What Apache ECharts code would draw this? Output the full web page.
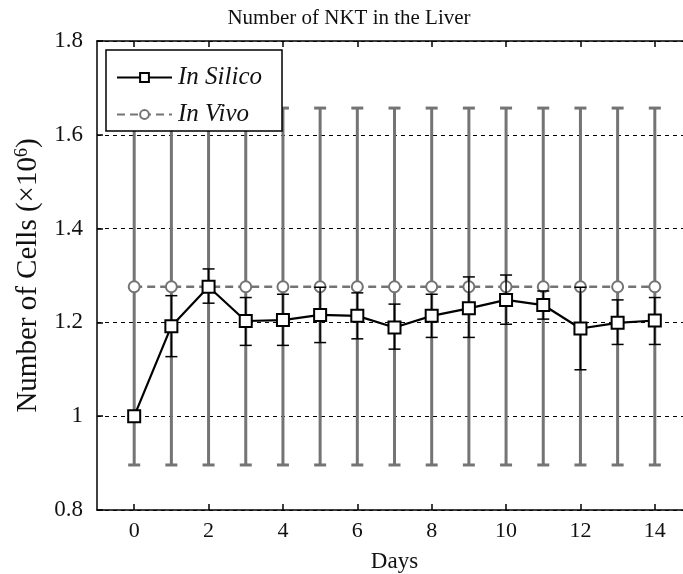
<!DOCTYPE html>
<html>
<head>
<meta charset="utf-8">
<script src="https://cdn.jsdelivr.net/npm/echarts@6/dist/echarts.min.js"></script>
<style>
  html, body { margin: 0; padding: 0; background: #fff; overflow: hidden; }
  #chart { width: 700px; height: 574px; }
</style>
</head>
<body>
<div id="chart"></div>
<script>
// Days of observation
const days = [0, 1, 2, 3, 4, 5, 6, 7, 8, 9, 10, 11, 12, 13, 14];
const xTicks = [0, 2, 4, 6, 8, 10, 12, 14];

// In silico mean and error-bar limits (x10^6 cells)
const silicoMean  = [1.000, 1.192, 1.276, 1.203, 1.205, 1.216, 1.214, 1.189, 1.214, 1.230, 1.248, 1.237, 1.187, 1.199, 1.204];
const silicoLow   = [1.000, 1.127, 1.241, 1.151, 1.151, 1.157, 1.165, 1.143, 1.168, 1.168, 1.196, 1.207, 1.099, 1.153, 1.153];
const silicoHigh  = [1.000, 1.257, 1.314, 1.253, 1.260, 1.275, 1.263, 1.239, 1.260, 1.297, 1.301, 1.267, 1.275, 1.248, 1.253];

// In vivo mean and error-bar limits (x10^6 cells)
const vivoMean = [1.276, 1.276, 1.276, 1.276, 1.276, 1.276, 1.276, 1.276, 1.276, 1.276, 1.276, 1.276, 1.276, 1.276, 1.276];
const vivoLow  = [0.896, 0.896, 0.896, 0.896, 0.896, 0.896, 0.896, 0.896, 0.896, 0.896, 0.896, 0.896, 0.896, 0.896, 0.896];
const vivoHigh = [1.657, 1.657, 1.657, 1.657, 1.657, 1.657, 1.657, 1.657, 1.657, 1.657, 1.657, 1.657, 1.657, 1.657, 1.657];

const FONT = 'Liberation Serif';
const GRAY = '#747474';

// Vertical bar with caps between api.value(1) and api.value(2)
function errorBars(color, width, capHalf) {
  return function (params, api) {
    const x = api.value(0);
    const top = api.coord([x, api.value(2)]);
    const bot = api.coord([x, api.value(1)]);
    const style = { stroke: color, lineWidth: width, fill: null };
    return {
      type: 'group',
      children: [
        { type: 'line', shape: { x1: top[0], y1: top[1], x2: bot[0], y2: bot[1] }, style },
        { type: 'line', shape: { x1: top[0] - capHalf, y1: top[1], x2: top[0] + capHalf, y2: top[1] }, style },
        { type: 'line', shape: { x1: bot[0] - capHalf, y1: bot[1], x2: bot[0] + capHalf, y2: bot[1] }, style }
      ]
    };
  };
}

const chart = echarts.init(document.getElementById('chart'), null, { renderer: 'canvas' });

chart.setOption({
  animation: false,
  backgroundColor: '#fff',
  title: {
    text: 'Number of NKT in the Liver',
    left: 344,
    textAlign: 'center',
    top: 3,
    textStyle: { fontFamily: FONT, fontWeight: 'normal', fontSize: 21, color: '#111' }
  },
  legend: {
    left: 106,
    top: 50,
    orient: 'vertical',
    backgroundColor: '#fff',
    borderColor: '#000',
    borderWidth: 1.5,
    borderRadius: 0,
    padding: [15, 20, 4, 10],
    itemGap: 12,
    itemWidth: 55,
    itemHeight: 11,
    data: ['In Silico', 'In Vivo'],
    textStyle: { fontFamily: FONT, fontStyle: 'italic', fontSize: 25, color: '#111', padding: [0, 0, 0, 1] }
  },
  grid: { left: 97, top: 41, width: 595, height: 469, containLabel: false, outerBoundsMode: 'none' },
  xAxis: [
    {
      type: 'value', min: -1, max: 15,
      name: 'Days', nameLocation: 'middle', nameGap: 40,
      nameTextStyle: { fontFamily: FONT, fontSize: 23, color: '#111' },
      axisLine: { onZero: false, lineStyle: { color: '#000', width: 1.5 } },
      axisTick: { inside: true, length: 6, customValues: xTicks, lineStyle: { color: '#000', width: 1.5 } },
      axisLabel: { customValues: xTicks, fontFamily: FONT, fontSize: 22, color: '#111', margin: 10 },
      splitLine: { show: false }
    },
    {
      type: 'value', min: -1, max: 15, position: 'top',
      axisLine: { onZero: false, lineStyle: { color: '#000', width: 1.5 } },
      axisTick: { inside: true, length: 6, customValues: xTicks, lineStyle: { color: '#000', width: 1.5 } },
      axisLabel: { show: false },
      splitLine: { show: false }
    }
  ],
  yAxis: {
    type: 'value', min: 0.8, max: 1.8, interval: 0.2,
    name: 'Number of Cells (×10{sup|6})', nameLocation: 'middle', nameGap: 52, nameRotate: 90,
    nameTextStyle: {
      fontFamily: FONT, fontSize: 29, color: '#111',
      rich: { sup: { fontFamily: FONT, fontSize: 18, color: '#111', verticalAlign: 'bottom', padding: [0, 0, 13, 0] } }
    },
    axisLine: { onZero: false, lineStyle: { color: '#000', width: 1.5 } },
    axisTick: { inside: true, length: 6, lineStyle: { color: '#000', width: 1.5 } },
    axisLabel: {
      fontFamily: FONT, fontSize: 23, color: '#111', margin: 14,
      formatter: v => (Math.abs(v - Math.round(v)) < 1e-9 ? String(Math.round(v)) : v.toFixed(1))
    },
    splitLine: { show: true, lineStyle: { color: '#000', width: 1, type: [4, 4] } }
  },
  series: [
    {
      name: 'vivo-bars', type: 'custom', z: 1,
      renderItem: errorBars(GRAY, 3, 6),
      data: days.map((d, i) => [d, vivoLow[i], vivoHigh[i]]),
      encode: { x: 0, y: [1, 2] }, silent: true
    },
    {
      name: 'In Vivo', type: 'line', z: 2,
      data: days.map((d, i) => [d, vivoMean[i]]),
      symbol: 'emptyCircle', symbolSize: 11,
      lineStyle: { color: GRAY, width: 2.5, type: [8, 5] },
      itemStyle: { color: GRAY, borderWidth: 1.5 }
    },
    {
      name: 'silico-bars', type: 'custom', z: 3,
      renderItem: errorBars('#000', 1.5, 6),
      data: days.map((d, i) => [d, silicoLow[i], silicoHigh[i]]),
      encode: { x: 0, y: [1, 2] }, silent: true
    },
    {
      name: 'In Silico', type: 'line', z: 4,
      data: days.map((d, i) => [d, silicoMean[i]]),
      symbol: 'emptyRect', symbolSize: 12,
      lineStyle: { color: '#000', width: 2.2 },
      itemStyle: { color: '#000', borderWidth: 1.8 }
    }
  ]
});
</script>
</body>
</html>
